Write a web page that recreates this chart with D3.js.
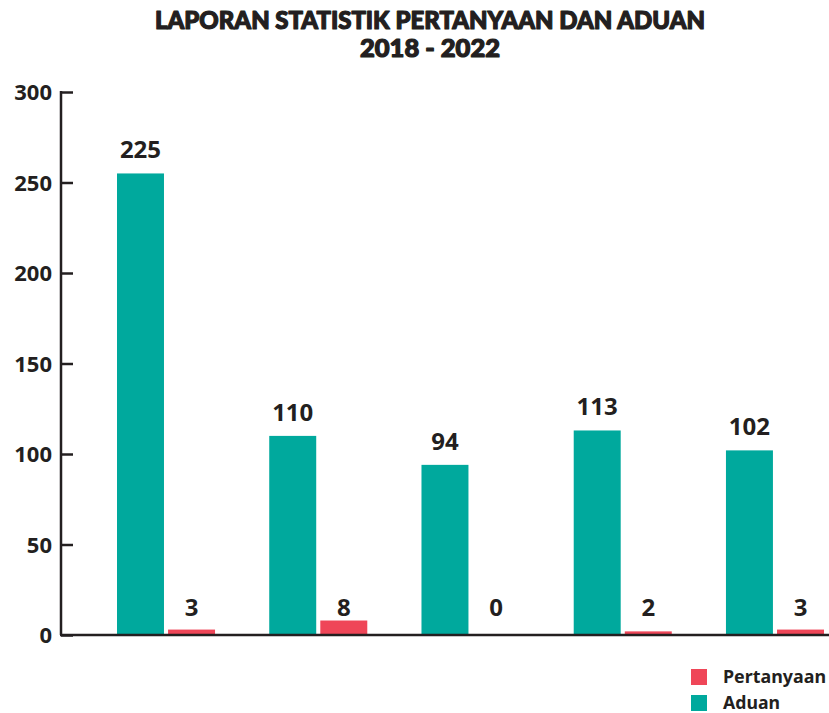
<!DOCTYPE html>
<html>
<head>
<meta charset="utf-8">
<script src="https://cdn.jsdelivr.net/npm/d3@7"></script>
<style>
  body { margin: 0; background: #fff; }
  text { fill: #231f20; }
</style>
</head>
<body>
<svg id="chart" width="829" height="713"></svg>
<script>
// data
var years = ['2018', '2019', '2020', '2021', '2022'];
var series = ['Aduan', 'Pertanyaan'];
var aduan = [255, 110, 94, 113, 102];        // bar heights
var aduanLabels = ['225', '110', '94', '113', '102'];
var pertanyaan = [3, 8, 0, 2, 3];
var pertanyaanLabels = ['3', '8', '0', '2', '3'];
var yTicks = [0, 50, 100, 150, 200, 250, 300];

var colors = { Aduan: '#00a99d', Pertanyaan: '#ef4658' };
var numFont = '"Noto Sans", "Open Sans", sans-serif';

var svg = d3.select('#chart');

var y = d3.scaleLinear()
    .domain([0, 300])
    .range([635, 92]);

var x = d3.scaleBand()
    .domain(years)
    .range([117, 824])
    .paddingInner(0.356)
    .paddingOuter(0);

var xs = d3.scaleBand()
    .domain(series)
    .range([0, x.bandwidth()])
    .paddingInner(0.08);

//// Title

var title = svg.append('g')
    .attr('font-family', 'Lato, sans-serif')
    .attr('font-weight', 900)
    .attr('font-size', 24)
    .attr('text-anchor', 'middle')
    .style('stroke', '#231f20')
    .style('stroke-width', 1.2)
    .style('stroke-linejoin', 'round');

title.append('text')
    .attr('x', 430).attr('y', 29)
    .attr('textLength', 550)
    .attr('lengthAdjust', 'spacingAndGlyphs')
    .text('LAPORAN STATISTIK PERTANYAAN DAN ADUAN');

title.append('text')
    .attr('x', 430).attr('y', 57)
    .attr('textLength', 140)
    .attr('lengthAdjust', 'spacingAndGlyphs')
    .text('2018 - 2022');

//// Y axis

var yAxis = svg.append('g')
    .attr('transform', 'translate(61,0)')
    .call(d3.axisRight(y).tickValues(yTicks).tickSize(12).tickFormat(''));

yAxis.select('.domain').remove();
yAxis.selectAll('.tick line')
    .attr('stroke', '#231f20')
    .attr('stroke-width', 2.5);

svg.append('line')
    .attr('x1', 61).attr('x2', 61)
    .attr('y1', y(300) - 1).attr('y2', y(0))
    .attr('stroke', '#231f20')
    .attr('stroke-width', 2.5);

svg.append('g')
    .selectAll('text')
    .data(yTicks)
    .join('text')
      .attr('x', 52)
      .attr('y', function (d) { return y(d) + 8; })
      .attr('text-anchor', 'end')
      .attr('font-family', numFont)
      .attr('font-weight', 700)
      .attr('font-size', 22)
      .text(function (d) { return d; });

//// Bars

var groups = svg.append('g')
    .selectAll('g')
    .data(years)
    .join('g')
      .attr('transform', function (d) { return 'translate(' + x(d) + ',0)'; });

groups.append('rect')
    .attr('x', xs('Aduan'))
    .attr('width', xs.bandwidth())
    .attr('y', function (d, i) { return y(aduan[i]); })
    .attr('height', function (d, i) { return y(0) - y(aduan[i]); })
    .attr('fill', colors.Aduan);

groups.append('rect')
    .attr('x', xs('Pertanyaan'))
    .attr('width', xs.bandwidth())
    .attr('y', function (d, i) { return y(pertanyaan[i]); })
    .attr('height', function (d, i) { return y(0) - y(pertanyaan[i]); })
    .attr('fill', colors.Pertanyaan);

// value labels
groups.append('text')
    .attr('x', xs('Aduan') + xs.bandwidth() / 2)
    .attr('y', function (d, i) { return y(aduan[i]) - 15; })
    .attr('text-anchor', 'middle')
    .attr('font-family', numFont)
    .attr('font-weight', 700)
    .attr('font-size', 24)
    .text(function (d, i) { return aduanLabels[i]; });

groups.append('text')
    .attr('x', xs('Pertanyaan') + xs.bandwidth() / 2)
    .attr('y', y(0) - 19)
    .attr('text-anchor', 'middle')
    .attr('font-family', numFont)
    .attr('font-weight', 700)
    .attr('font-size', 24)
    .text(function (d, i) { return pertanyaanLabels[i]; });

// baseline
svg.append('line')
    .attr('x1', 60).attr('x2', 829)
    .attr('y1', y(0)).attr('y2', y(0))
    .attr('stroke', '#231f20')
    .attr('stroke-width', 2.5);

//// Legend

var legend = svg.append('g')
    .selectAll('g')
    .data(['Pertanyaan', 'Aduan'])
    .join('g')
      .attr('transform', function (d, i) { return 'translate(691,' + (669 + i * 26) + ')'; });

legend.append('rect')
    .attr('width', 16).attr('height', 16)
    .attr('fill', function (d) { return colors[d]; });

legend.append('text')
    .attr('x', 32).attr('y', 14)
    .attr('font-family', numFont)
    .attr('font-weight', 700)
    .attr('font-size', 18)
    .attr('textLength', function (d) { return d === 'Pertanyaan' ? 103 : 57; })
    .attr('lengthAdjust', 'spacingAndGlyphs')
    .text(function (d) { return d; });
</script>
</body>
</html>
